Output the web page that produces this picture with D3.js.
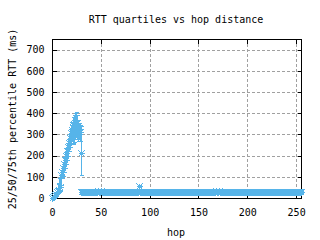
<!DOCTYPE html>
<head>
  <meta charset="utf-8">
  <script src="https://d3js.org/d3.v7.min.js"></script>
  <style>
body { margin: 0; background: #fff; }
svg { display: block; }
text { font-family: "DejaVu Sans Mono", monospace; font-size: 10px; fill: #000; }
.grid line { stroke: #a0a0a0; stroke-dasharray: 3,2; shape-rendering: crispEdges; }
.pts path, .pts line { stroke: #56b4e9; fill: none; shape-rendering: crispEdges; }
  </style>
</head>

<body>
  <script>
    // hops 0..30 (climb), per-hop 25th / 50th / 75th percentile RTT in ms
    var nearHops = d3.range(0, 31);
    var nearQ1  = [0,2,5,9,13,17,22,28,35,60,95,105,125,140,160,180,200,220,240,255,270,255,260,265,280,290,280,270,280,270,110];
    var nearMed = [1,5,10,15,20,26,32,40,50,110,125,140,160,180,200,220,240,260,285,305,320,335,345,350,355,350,335,320,325,310,210];
    var nearQ3  = [3,9,16,22,30,45,70,95,110,130,150,170,195,215,235,260,280,300,325,345,360,370,380,390,400,405,390,370,355,345,340];

    // hops 30..255 (flat part)
    var farHops = d3.range(30, 256);
    var farMed = [
      28,27,28,29,28,27,28,28,29,28, 27,28,28,29,28,28,29,33,29,28,
      33,28,27,28,28,29,28,27,28,28, 28,29,28,27,28,28,28,29,28,27,
      28,28,29,28,28,27,28,28,29,28, 28,27,28,28,29,28,28,28,27,57,
      28,28,29,28,27,28,28,28,29,28, 27,28,28,28,29,28,28,27,28,28,
      29,28,28,28,27,28,29,28,28,28, 28,27,28,28,29,28,28,28,27,28,
      28,29,28,28,28,27,28,28,29,28, 28,28,27,28,28,29,28,28,28,27,
      28,28,29,28,28,28,27,28,28,29, 28,28,28,27,28,28,29,28,32,28,
      28,32,28,27,28,29,28,28,28,27, 28,28,29,28,28,28,27,28,28,29,
      28,28,28,27,28,28,29,28,28,28, 27,28,28,29,28,28,28,27,28,28,
      29,28,28,28,27,28,28,29,28,28, 28,27,28,28,29,28,28,28,27,28,
      28,29,28,28,28,27,28,28,29,28, 28,28,27,28,28,29,28,28,28,27,
      28,28,29,28,28,28];
    var farQ1 = [
      25,24,25,26,25,24,25,25,26,25, 24,25,25,26,25,25,26,29,26,25,
      29,25,24,25,25,26,25,24,25,25, 25,26,25,24,25,25,25,26,25,24,
      25,25,26,25,25,24,25,25,26,25, 25,24,25,25,26,25,25,25,24,52,
      25,25,26,25,24,25,25,25,26,25, 24,25,25,25,26,25,25,24,25,25,
      26,25,25,25,24,25,26,25,25,25, 25,24,25,25,26,25,25,25,24,25,
      25,26,25,25,25,24,25,25,26,25, 25,25,24,25,25,26,25,25,25,24,
      25,25,26,25,25,25,24,25,25,26, 25,25,25,24,25,25,26,25,28,25,
      25,28,25,24,25,26,25,25,25,24, 25,25,26,25,25,25,24,25,25,26,
      25,25,25,24,25,25,26,25,25,25, 24,25,25,26,25,25,25,24,25,25,
      26,25,25,25,24,25,25,26,25,25, 25,24,25,25,26,25,25,25,24,25,
      25,26,25,25,25,24,25,25,26,25, 25,25,24,25,25,26,25,25,25,24,
      25,25,26,25,25,25];
    var farQ3 = [
      31,30,31,32,31,30,31,31,32,31, 30,31,31,32,31,31,32,36,32,31,
      36,31,30,31,31,32,31,30,31,31, 31,32,31,30,31,31,31,32,31,30,
      31,31,32,31,31,30,31,31,32,31, 31,30,31,31,32,31,31,31,30,62,
      31,31,32,31,30,31,31,31,32,31, 30,31,31,31,32,31,31,30,31,31,
      32,31,31,31,30,31,32,31,31,31, 31,30,31,31,32,31,31,31,30,31,
      31,32,31,31,31,30,31,31,32,31, 31,31,30,31,31,32,31,31,31,30,
      31,31,32,31,31,31,30,31,31,32, 31,31,31,30,31,31,32,31,35,31,
      31,35,31,30,31,32,31,31,31,30, 31,31,32,31,31,31,30,31,31,32,
      31,31,31,30,31,31,32,31,31,31, 30,31,31,32,31,31,31,30,31,31,
      32,31,31,31,30,31,31,32,31,31, 31,30,31,31,32,31,31,31,30,31,
      31,32,31,31,31,30,31,31,32,31, 31,31,30,31,31,32,31,31,31,30,
      31,31,32,31,31,31];

    var xTicks = [0, 50, 100, 150, 200, 250];
    var yTicks = [0, 100, 200, 300, 400, 500, 600, 700];

    var W = 320, H = 240;
    var pLeft = 52, pRight = 301, pTop = 39, pBottom = 198;

    var x = d3.scaleLinear().domain([0, 255]).range([pLeft, pRight]);
    var y = d3.scaleLinear().domain([0, 750]).range([pBottom, pTop]);

    var svg = d3.select("body").append("svg")
      .attr("width", W)
      .attr("height", H);

    // grid
    var grid = svg.append("g").attr("class", "grid");
    grid.selectAll(".gx").data(xTicks.filter(d => d > 0))
      .enter().append("line")
      .attr("x1", d => Math.round(x(d)) + 0.5).attr("x2", d => Math.round(x(d)) + 0.5)
      .attr("y1", pTop).attr("y2", pBottom);
    grid.selectAll(".gy").data(yTicks.filter(d => d > 0))
      .enter().append("line")
      .attr("x1", pLeft).attr("x2", pRight)
      .attr("y1", d => Math.round(y(d)) + 0.5).attr("y2", d => Math.round(y(d)) + 0.5);

    // axes, ticks inward, mirrored
    var xAx = d3.axisBottom(x).tickValues(xTicks).tickSizeInner(-4).tickSizeOuter(0).tickPadding(10);
    var yAx = d3.axisLeft(y).tickValues(yTicks).tickSizeInner(-4).tickSizeOuter(0).tickPadding(8);
    var gx = svg.append("g").attr("transform", "translate(0," + (pBottom + 0.5) + ")").call(xAx);
    var gy = svg.append("g").attr("transform", "translate(" + (pLeft + 0.5) + ",0)").call(yAx);
    svg.append("g").attr("transform", "translate(0," + (pTop + 0.5) + ")")
      .call(d3.axisTop(x).tickValues(xTicks).tickSizeInner(-4).tickSizeOuter(0).tickFormat(""));
    svg.append("g").attr("transform", "translate(" + (pRight + 0.5) + ",0)")
      .call(d3.axisRight(y).tickValues(yTicks).tickSizeInner(-4).tickSizeOuter(0).tickFormat(""));
    svg.selectAll(".domain").remove();
    svg.selectAll(".tick line").attr("stroke", "#000").style("shape-rendering", "crispEdges");
    gx.selectAll("text").attr("font-family", null).attr("font-size", null).attr("dy", "0.71em");
    gy.selectAll("text").attr("font-family", null).attr("font-size", null);

    svg.append("rect")
      .attr("x", pLeft + 0.5).attr("y", pTop + 0.5)
      .attr("width", pRight - pLeft).attr("height", pBottom - pTop)
      .attr("fill", "none").attr("stroke", "#000").style("shape-rendering", "crispEdges");

    // quartile points: error bar from q1 to q3, star at median
    var rows = [];
    nearHops.forEach((h, i) => rows.push({ hop: h, q1: nearQ1[i], med: nearMed[i], q3: nearQ3[i] }));
    farHops.forEach((h, i) => rows.push({ hop: h, q1: farQ1[i], med: farMed[i], q3: farQ3[i] }));

    var s = 3;
    var pts = svg.append("g").attr("class", "pts");
    var g = pts.selectAll("g").data(rows).enter().append("g");
    g.append("path").attr("d", function(d) {
      var cx = Math.round(x(d.hop)) + 0.5, y1 = Math.round(y(d.q1)) + 0.5, y3 = Math.round(y(d.q3)) + 0.5;
      return "M" + cx + "," + y1 + "V" + y3 +
        "M" + (cx - 2) + "," + y1 + "H" + (cx + 2) +
        "M" + (cx - 2) + "," + y3 + "H" + (cx + 2);
    });
    g.append("path").attr("d", function(d) {
      var cx = Math.round(x(d.hop)) + 0.5, cy = Math.round(y(d.med)) + 0.5;
      return "M" + (cx - s) + "," + cy + "H" + (cx + s) +
        "M" + cx + "," + (cy - s) + "V" + (cy + s) +
        "M" + (cx - s) + "," + (cy - s) + "L" + (cx + s) + "," + (cy + s) +
        "M" + (cx - s) + "," + (cy + s) + "L" + (cx + s) + "," + (cy - s);
    });

    // labels
    svg.append("text").attr("x", 176).attr("y", 23).attr("text-anchor", "middle")
      .text("RTT quartiles vs hop distance");
    svg.append("text").attr("x", 176).attr("y", 236).attr("text-anchor", "middle").text("hop");
    svg.append("text").attr("transform", "translate(16,119) rotate(-90)")
      .attr("text-anchor", "middle").text("25/50/75th percentile RTT (ms)");
  </script>
</body>
